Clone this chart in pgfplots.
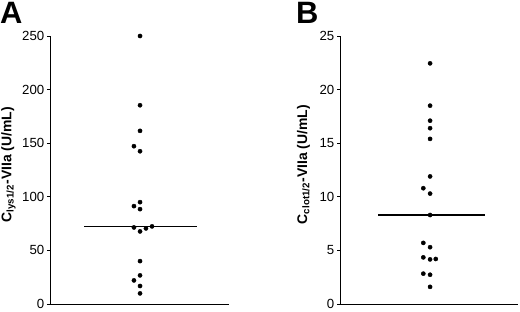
\documentclass[border=0pt]{standalone}
\usepackage{pgfplots}
\pgfplotsset{compat=1.18}
\usepackage{fontspec}
\setmainfont{Liberation Sans}
\begin{document}
\begin{tikzpicture}
\useasboundingbox (0bp,0bp) rectangle (520bp,312bp);
\pgfplotsset{
  myax/.style={
    scale only axis,
    width=179bp, height=268bp,
    anchor=south west,
    xmin=0, xmax=1, ymin=0,
    axis x line*=bottom, axis y line*=left,
    axis line style={line width=1bp, -},
    xtick=\empty,
    tick align=outside,
    major tick length=3bp,
    tick style={line width=0.9bp, black},
    /pgf/number format/assume math mode=true,
    tick label style={font=\fontsize{13.3}{13.3}\selectfont},
    yticklabel style={xshift=0.8bp},
    clip=false,
  }
}
\begin{axis}[myax, at={(50bp,8bp)}, ymax=250, ytick={0,50,100,150,200,250},
  ylabel={\bfseries C\textsubscript{lys1/2}-VIIa (U/mL)},
  ylabel style={at={(axis description cs:-0.232,0.52)}, anchor=center, font=\fontsize{14}{14}\selectfont}]
\addplot[only marks, mark=*, mark size=2.1bp, black] coordinates {
(0.503,250)(0.503,185.4)(0.503,161.5)(0.469,147.2)(0.503,142.5)(0.503,95)(0.469,91.3)(0.503,88.5)(0.469,71.4)(0.536,70.5)(0.570,72.4)(0.503,67.7)(0.503,40)(0.503,26.7)(0.469,22)(0.503,16.8)(0.503,9.9)};
\addplot[black, line width=1.4bp] coordinates {(0.19,72.4)(0.82,72.4)};
\end{axis}
\begin{axis}[myax, at={(340bp,8bp)}, width=178bp, ymax=25, ytick={0,5,10,15,20,25},
  ylabel={\bfseries C\textsubscript{clot1/2}-VIIa (U/mL)},
  ylabel style={at={(axis description cs:-0.205,0.52)}, anchor=center, font=\fontsize{14}{14}\selectfont}]
\addplot[only marks, mark=*, mark size=2.1bp, black] coordinates {
(0.506,22.45)(0.506,18.5)(0.506,17.1)(0.506,16.4)(0.506,15.4)(0.506,11.9)(0.468,10.8)(0.506,10.3)(0.506,8.3)(0.468,5.7)(0.506,5.3)(0.468,4.35)(0.506,4.16)(0.538,4.2)(0.468,2.83)(0.506,2.73)(0.506,1.6)};
\addplot[black, line width=1.4bp] coordinates {(0.215,8.3)(0.817,8.3)};
\end{axis}
\node[anchor=north west, inner sep=0, font=\bfseries\fontsize{31}{31}\selectfont] at (0bp,310bp) {A};
\node[anchor=north west, inner sep=0, font=\bfseries\fontsize{31}{31}\selectfont] at (296bp,310bp) {B};
\end{tikzpicture}
\end{document}
